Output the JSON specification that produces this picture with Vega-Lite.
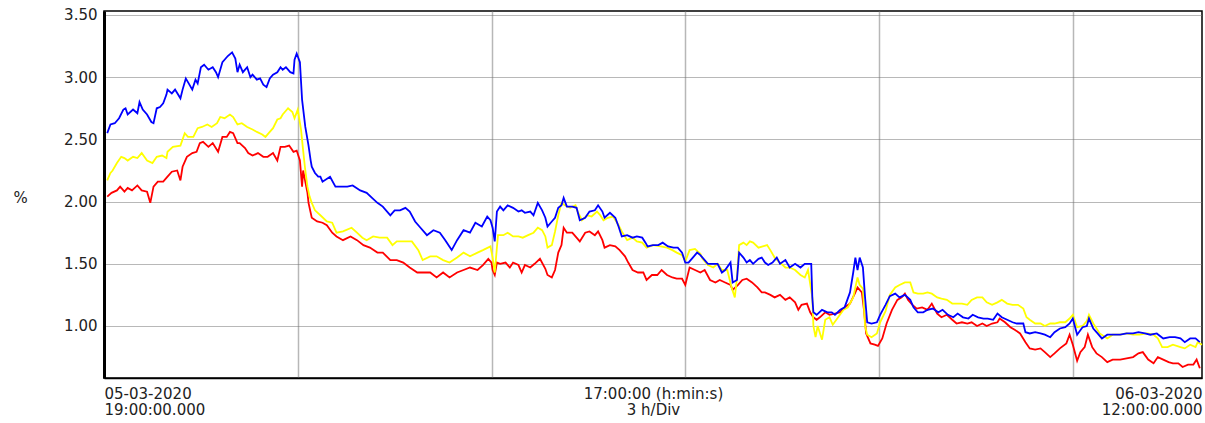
{
"$schema": "https://vega.github.io/schema/vega-lite/v6.json",
"width": 1098, "height": 367,
"autosize": {"type": "none"},
"padding": {"left": 104, "top": 11, "right": 3, "bottom": 45},
"background": "white",
"config": {"view": {"stroke": "#000", "strokeWidth": 1.5}, "font": "DejaVu Sans"},
"datasets": {
"red": [
{"m":3,"v":2.04},{"m":7,"v":2.07},{"m":12,"v":2.09},{"m":15,"v":2.12},{"m":19,"v":2.08},{"m":22,"v":2.11},{"m":26,"v":2.09},{"m":31,"v":2.13},{"m":35,"v":2.09},{"m":40,"v":2.08},{"m":43,"v":1.99},{"m":46,"v":2.12},{"m":50,"v":2.16},{"m":55,"v":2.16},{"m":59,"v":2.20},{"m":63,"v":2.24},{"m":68,"v":2.25},{"m":71,"v":2.17},{"m":73,"v":2.28},{"m":77,"v":2.36},{"m":82,"v":2.39},{"m":86,"v":2.40},{"m":89,"v":2.47},{"m":92,"v":2.48},{"m":97,"v":2.44},{"m":101,"v":2.47},{"m":106,"v":2.40},{"m":110,"v":2.52},{"m":114,"v":2.52},{"m":117,"v":2.56},{"m":120,"v":2.55},{"m":124,"v":2.47},{"m":126,"v":2.47},{"m":131,"v":2.43},{"m":134,"v":2.39},{"m":138,"v":2.37},{"m":143,"v":2.39},{"m":148,"v":2.36},{"m":152,"v":2.36},{"m":157,"v":2.39},{"m":161,"v":2.33},{"m":164,"v":2.44},{"m":168,"v":2.44},{"m":172,"v":2.45},{"m":176,"v":2.40},{"m":179,"v":2.41},{"m":182,"v":2.33},{"m":184,"v":2.12},{"m":185,"v":2.25},{"m":189,"v":2.07},{"m":190,"v":1.99},{"m":193,"v":1.87},{"m":198,"v":1.84},{"m":203,"v":1.83},{"m":207,"v":1.81},{"m":212,"v":1.75},{"m":216,"v":1.72},{"m":222,"v":1.69},{"m":229,"v":1.72},{"m":235,"v":1.69},{"m":241,"v":1.65},{"m":247,"v":1.63},{"m":254,"v":1.59},{"m":259,"v":1.59},{"m":266,"v":1.53},{"m":272,"v":1.53},{"m":278,"v":1.51},{"m":284,"v":1.47},{"m":291,"v":1.43},{"m":296,"v":1.43},{"m":303,"v":1.43},{"m":309,"v":1.39},{"m":315,"v":1.43},{"m":321,"v":1.39},{"m":328,"v":1.43},{"m":334,"v":1.45},{"m":340,"v":1.47},{"m":347,"v":1.45},{"m":352,"v":1.49},{"m":357,"v":1.54},{"m":360,"v":1.51},{"m":361,"v":1.45},{"m":363,"v":1.41},{"m":365,"v":1.51},{"m":368,"v":1.50},{"m":373,"v":1.51},{"m":377,"v":1.47},{"m":380,"v":1.51},{"m":385,"v":1.49},{"m":388,"v":1.43},{"m":391,"v":1.49},{"m":396,"v":1.47},{"m":400,"v":1.50},{"m":405,"v":1.54},{"m":410,"v":1.46},{"m":412,"v":1.41},{"m":416,"v":1.39},{"m":419,"v":1.45},{"m":422,"v":1.59},{"m":425,"v":1.65},{"m":427,"v":1.79},{"m":430,"v":1.75},{"m":435,"v":1.75},{"m":439,"v":1.71},{"m":442,"v":1.68},{"m":447,"v":1.75},{"m":451,"v":1.76},{"m":456,"v":1.73},{"m":459,"v":1.76},{"m":463,"v":1.69},{"m":465,"v":1.63},{"m":470,"v":1.65},{"m":475,"v":1.64},{"m":479,"v":1.61},{"m":484,"v":1.56},{"m":487,"v":1.51},{"m":491,"v":1.45},{"m":496,"v":1.43},{"m":501,"v":1.43},{"m":504,"v":1.37},{"m":509,"v":1.41},{"m":514,"v":1.41},{"m":518,"v":1.45},{"m":523,"v":1.41},{"m":528,"v":1.39},{"m":532,"v":1.38},{"m":537,"v":1.38},{"m":540,"v":1.33},{"m":544,"v":1.47},{"m":549,"v":1.45},{"m":554,"v":1.43},{"m":558,"v":1.45},{"m":563,"v":1.37},{"m":568,"v":1.35},{"m":572,"v":1.37},{"m":577,"v":1.35},{"m":582,"v":1.33},{"m":584,"v":1.29},{"m":589,"v":1.33},{"m":593,"v":1.37},{"m":597,"v":1.38},{"m":602,"v":1.35},{"m":607,"v":1.31},{"m":611,"v":1.27},{"m":614,"v":1.27},{"m":619,"v":1.25},{"m":623,"v":1.23},{"m":628,"v":1.25},{"m":633,"v":1.21},{"m":637,"v":1.23},{"m":642,"v":1.19},{"m":645,"v":1.13},{"m":648,"v":1.17},{"m":653,"v":1.18},{"m":656,"v":1.11},{"m":659,"v":1.07},{"m":662,"v":1.05},{"m":665,"v":1.07},{"m":670,"v":1.11},{"m":674,"v":1.09},{"m":679,"v":1.10},{"m":684,"v":1.11},{"m":688,"v":1.15},{"m":693,"v":1.18},{"m":698,"v":1.27},{"m":700,"v":1.31},{"m":704,"v":1.27},{"m":706,"v":1.13},{"m":708,"v":0.94},{"m":712,"v":0.86},{"m":716,"v":0.85},{"m":719,"v":0.84},{"m":723,"v":0.90},{"m":727,"v":1.02},{"m":732,"v":1.13},{"m":737,"v":1.21},{"m":741,"v":1.23},{"m":744,"v":1.26},{"m":747,"v":1.21},{"m":751,"v":1.17},{"m":755,"v":1.14},{"m":760,"v":1.15},{"m":765,"v":1.13},{"m":769,"v":1.18},{"m":774,"v":1.10},{"m":778,"v":1.07},{"m":783,"v":1.09},{"m":788,"v":1.05},{"m":792,"v":1.02},{"m":797,"v":1.03},{"m":802,"v":1.02},{"m":806,"v":1.03},{"m":811,"v":1.00},{"m":816,"v":1.02},{"m":820,"v":1.00},{"m":825,"v":1.02},{"m":830,"v":1.03},{"m":832,"v":1.06},{"m":837,"v":1.03},{"m":842,"v":0.99},{"m":846,"v":0.97},{"m":851,"v":0.94},{"m":856,"v":0.87},{"m":860,"v":0.82},{"m":865,"v":0.81},{"m":870,"v":0.82},{"m":874,"v":0.79},{"m":879,"v":0.75},{"m":883,"v":0.78},{"m":888,"v":0.82},{"m":894,"v":0.86},{"m":897,"v":0.93},{"m":900,"v":0.85},{"m":904,"v":0.72},{"m":907,"v":0.79},{"m":911,"v":0.83},{"m":914,"v":0.93},{"m":918,"v":0.83},{"m":922,"v":0.78},{"m":927,"v":0.75},{"m":932,"v":0.71},{"m":937,"v":0.73},{"m":944,"v":0.73},{"m":950,"v":0.74},{"m":956,"v":0.75},{"m":961,"v":0.78},{"m":965,"v":0.79},{"m":970,"v":0.73},{"m":975,"v":0.70},{"m":979,"v":0.75},{"m":984,"v":0.73},{"m":989,"v":0.71},{"m":993,"v":0.70},{"m":998,"v":0.70},{"m":1002,"v":0.67},{"m":1007,"v":0.69},{"m":1012,"v":0.69},{"m":1015,"v":0.73},{"m":1018,"v":0.66}
],
"yellow": [
{"m":3,"v":2.17},{"m":6,"v":2.23},{"m":8,"v":2.25},{"m":12,"v":2.31},{"m":16,"v":2.36},{"m":19,"v":2.35},{"m":22,"v":2.33},{"m":27,"v":2.36},{"m":31,"v":2.35},{"m":35,"v":2.39},{"m":40,"v":2.33},{"m":45,"v":2.31},{"m":49,"v":2.36},{"m":54,"v":2.37},{"m":58,"v":2.35},{"m":59,"v":2.40},{"m":64,"v":2.44},{"m":71,"v":2.45},{"m":75,"v":2.55},{"m":78,"v":2.52},{"m":83,"v":2.52},{"m":87,"v":2.59},{"m":91,"v":2.60},{"m":96,"v":2.62},{"m":100,"v":2.60},{"m":105,"v":2.63},{"m":108,"v":2.68},{"m":112,"v":2.67},{"m":117,"v":2.70},{"m":120,"v":2.68},{"m":124,"v":2.62},{"m":128,"v":2.63},{"m":133,"v":2.60},{"m":138,"v":2.58},{"m":142,"v":2.56},{"m":147,"v":2.54},{"m":150,"v":2.52},{"m":153,"v":2.55},{"m":157,"v":2.59},{"m":161,"v":2.66},{"m":164,"v":2.67},{"m":166,"v":2.70},{"m":171,"v":2.75},{"m":175,"v":2.72},{"m":177,"v":2.67},{"m":180,"v":2.74},{"m":183,"v":2.58},{"m":185,"v":2.41},{"m":187,"v":2.25},{"m":189,"v":2.12},{"m":191,"v":2.04},{"m":193,"v":1.99},{"m":196,"v":1.93},{"m":201,"v":1.89},{"m":207,"v":1.84},{"m":212,"v":1.83},{"m":216,"v":1.75},{"m":222,"v":1.76},{"m":230,"v":1.79},{"m":235,"v":1.75},{"m":240,"v":1.71},{"m":244,"v":1.69},{"m":250,"v":1.72},{"m":256,"v":1.71},{"m":263,"v":1.71},{"m":268,"v":1.65},{"m":272,"v":1.68},{"m":280,"v":1.68},{"m":286,"v":1.68},{"m":292,"v":1.61},{"m":296,"v":1.53},{"m":303,"v":1.56},{"m":309,"v":1.56},{"m":315,"v":1.53},{"m":321,"v":1.51},{"m":328,"v":1.55},{"m":334,"v":1.59},{"m":340,"v":1.56},{"m":347,"v":1.59},{"m":352,"v":1.61},{"m":359,"v":1.64},{"m":361,"v":1.55},{"m":363,"v":1.43},{"m":366,"v":1.73},{"m":371,"v":1.73},{"m":375,"v":1.75},{"m":380,"v":1.72},{"m":385,"v":1.72},{"m":389,"v":1.71},{"m":394,"v":1.73},{"m":399,"v":1.75},{"m":403,"v":1.79},{"m":407,"v":1.77},{"m":410,"v":1.72},{"m":412,"v":1.63},{"m":416,"v":1.65},{"m":419,"v":1.76},{"m":422,"v":1.89},{"m":425,"v":1.99},{"m":428,"v":1.97},{"m":433,"v":1.95},{"m":438,"v":1.97},{"m":440,"v":1.92},{"m":444,"v":1.85},{"m":449,"v":1.89},{"m":453,"v":1.88},{"m":458,"v":1.92},{"m":461,"v":1.89},{"m":464,"v":1.85},{"m":468,"v":1.87},{"m":473,"v":1.88},{"m":478,"v":1.81},{"m":481,"v":1.76},{"m":486,"v":1.69},{"m":491,"v":1.71},{"m":495,"v":1.68},{"m":500,"v":1.67},{"m":504,"v":1.63},{"m":510,"v":1.65},{"m":517,"v":1.64},{"m":523,"v":1.63},{"m":528,"v":1.61},{"m":532,"v":1.59},{"m":537,"v":1.57},{"m":540,"v":1.52},{"m":544,"v":1.61},{"m":549,"v":1.62},{"m":554,"v":1.58},{"m":556,"v":1.54},{"m":561,"v":1.49},{"m":566,"v":1.47},{"m":570,"v":1.50},{"m":574,"v":1.45},{"m":579,"v":1.45},{"m":583,"v":1.31},{"m":586,"v":1.23},{"m":588,"v":1.39},{"m":590,"v":1.65},{"m":594,"v":1.67},{"m":597,"v":1.65},{"m":600,"v":1.68},{"m":603,"v":1.67},{"m":608,"v":1.63},{"m":612,"v":1.64},{"m":616,"v":1.65},{"m":619,"v":1.61},{"m":623,"v":1.55},{"m":628,"v":1.51},{"m":633,"v":1.47},{"m":637,"v":1.47},{"m":642,"v":1.45},{"m":647,"v":1.41},{"m":651,"v":1.39},{"m":654,"v":1.45},{"m":658,"v":1.23},{"m":659,"v":1.00},{"m":661,"v":0.91},{"m":663,"v":1.00},{"m":667,"v":0.89},{"m":670,"v":1.05},{"m":674,"v":1.07},{"m":677,"v":1.01},{"m":682,"v":1.07},{"m":687,"v":1.13},{"m":691,"v":1.15},{"m":696,"v":1.23},{"m":700,"v":1.39},{"m":702,"v":1.33},{"m":705,"v":1.30},{"m":707,"v":1.00},{"m":709,"v":0.93},{"m":713,"v":0.91},{"m":718,"v":0.94},{"m":721,"v":1.03},{"m":726,"v":1.12},{"m":730,"v":1.25},{"m":735,"v":1.31},{"m":739,"v":1.33},{"m":744,"v":1.35},{"m":749,"v":1.35},{"m":752,"v":1.27},{"m":756,"v":1.26},{"m":761,"v":1.26},{"m":765,"v":1.27},{"m":769,"v":1.26},{"m":774,"v":1.23},{"m":778,"v":1.22},{"m":783,"v":1.21},{"m":788,"v":1.18},{"m":792,"v":1.18},{"m":797,"v":1.18},{"m":802,"v":1.17},{"m":806,"v":1.21},{"m":811,"v":1.23},{"m":816,"v":1.23},{"m":820,"v":1.19},{"m":825,"v":1.17},{"m":830,"v":1.19},{"m":834,"v":1.21},{"m":839,"v":1.18},{"m":844,"v":1.17},{"m":849,"v":1.17},{"m":854,"v":1.14},{"m":857,"v":1.07},{"m":860,"v":1.05},{"m":865,"v":1.02},{"m":870,"v":1.02},{"m":874,"v":1.00},{"m":879,"v":1.02},{"m":883,"v":1.02},{"m":888,"v":1.03},{"m":893,"v":1.03},{"m":897,"v":1.06},{"m":900,"v":1.09},{"m":904,"v":0.99},{"m":909,"v":1.00},{"m":913,"v":1.04},{"m":915,"v":1.09},{"m":919,"v":1.02},{"m":925,"v":0.94},{"m":932,"v":0.90},{"m":937,"v":0.93},{"m":944,"v":0.93},{"m":950,"v":0.94},{"m":956,"v":0.93},{"m":962,"v":0.93},{"m":969,"v":0.94},{"m":975,"v":0.93},{"m":979,"v":0.90},{"m":983,"v":0.83},{"m":988,"v":0.83},{"m":993,"v":0.85},{"m":1000,"v":0.83},{"m":1004,"v":0.82},{"m":1009,"v":0.85},{"m":1014,"v":0.83},{"m":1016,"v":0.87},{"m":1020,"v":0.85}
],
"blue": [
{"m":3,"v":2.55},{"m":6,"v":2.62},{"m":10,"v":2.63},{"m":14,"v":2.67},{"m":18,"v":2.74},{"m":20,"v":2.75},{"m":22,"v":2.70},{"m":27,"v":2.74},{"m":31,"v":2.71},{"m":33,"v":2.80},{"m":36,"v":2.74},{"m":40,"v":2.70},{"m":44,"v":2.64},{"m":46,"v":2.63},{"m":49,"v":2.75},{"m":52,"v":2.76},{"m":55,"v":2.79},{"m":58,"v":2.86},{"m":59,"v":2.90},{"m":63,"v":2.87},{"m":66,"v":2.90},{"m":71,"v":2.83},{"m":73,"v":2.90},{"m":76,"v":2.99},{"m":78,"v":2.96},{"m":82,"v":2.90},{"m":85,"v":2.98},{"m":87,"v":2.95},{"m":90,"v":3.08},{"m":93,"v":3.10},{"m":97,"v":3.06},{"m":101,"v":3.08},{"m":104,"v":3.04},{"m":106,"v":3.00},{"m":110,"v":3.12},{"m":112,"v":3.14},{"m":115,"v":3.17},{"m":119,"v":3.20},{"m":122,"v":3.15},{"m":124,"v":3.04},{"m":126,"v":3.10},{"m":129,"v":3.04},{"m":133,"v":3.08},{"m":136,"v":3.00},{"m":138,"v":3.02},{"m":142,"v":2.98},{"m":145,"v":2.99},{"m":148,"v":2.94},{"m":151,"v":2.92},{"m":154,"v":2.99},{"m":157,"v":3.02},{"m":161,"v":3.04},{"m":164,"v":3.08},{"m":166,"v":3.06},{"m":169,"v":3.08},{"m":173,"v":3.04},{"m":176,"v":3.03},{"m":177,"v":3.14},{"m":179,"v":3.19},{"m":182,"v":3.12},{"m":184,"v":2.82},{"m":187,"v":2.60},{"m":190,"v":2.45},{"m":192,"v":2.33},{"m":193,"v":2.28},{"m":196,"v":2.23},{"m":199,"v":2.20},{"m":201,"v":2.20},{"m":203,"v":2.16},{"m":210,"v":2.20},{"m":215,"v":2.12},{"m":219,"v":2.12},{"m":226,"v":2.12},{"m":231,"v":2.13},{"m":238,"v":2.09},{"m":244,"v":2.07},{"m":249,"v":2.03},{"m":254,"v":1.99},{"m":259,"v":1.96},{"m":266,"v":1.89},{"m":270,"v":1.93},{"m":275,"v":1.93},{"m":280,"v":1.95},{"m":284,"v":1.92},{"m":289,"v":1.84},{"m":294,"v":1.79},{"m":300,"v":1.73},{"m":306,"v":1.77},{"m":312,"v":1.75},{"m":317,"v":1.69},{"m":323,"v":1.61},{"m":328,"v":1.69},{"m":334,"v":1.77},{"m":340,"v":1.75},{"m":345,"v":1.83},{"m":351,"v":1.80},{"m":356,"v":1.88},{"m":359,"v":1.85},{"m":361,"v":1.79},{"m":363,"v":1.68},{"m":365,"v":1.92},{"m":368,"v":1.96},{"m":371,"v":1.93},{"m":375,"v":1.97},{"m":380,"v":1.95},{"m":385,"v":1.92},{"m":388,"v":1.93},{"m":391,"v":1.91},{"m":396,"v":1.92},{"m":399,"v":1.89},{"m":403,"v":1.99},{"m":407,"v":1.93},{"m":410,"v":1.87},{"m":412,"v":1.80},{"m":416,"v":1.84},{"m":419,"v":1.87},{"m":422,"v":1.95},{"m":425,"v":1.97},{"m":427,"v":2.03},{"m":430,"v":1.96},{"m":435,"v":1.96},{"m":439,"v":1.95},{"m":442,"v":1.85},{"m":447,"v":1.87},{"m":451,"v":1.92},{"m":456,"v":1.93},{"m":459,"v":1.97},{"m":463,"v":1.92},{"m":465,"v":1.87},{"m":470,"v":1.91},{"m":475,"v":1.87},{"m":478,"v":1.80},{"m":481,"v":1.72},{"m":486,"v":1.73},{"m":491,"v":1.71},{"m":495,"v":1.72},{"m":500,"v":1.71},{"m":503,"v":1.67},{"m":505,"v":1.64},{"m":510,"v":1.65},{"m":515,"v":1.65},{"m":519,"v":1.67},{"m":524,"v":1.64},{"m":529,"v":1.63},{"m":533,"v":1.63},{"m":537,"v":1.59},{"m":540,"v":1.51},{"m":543,"v":1.51},{"m":547,"v":1.55},{"m":551,"v":1.59},{"m":554,"v":1.57},{"m":556,"v":1.55},{"m":561,"v":1.50},{"m":566,"v":1.50},{"m":570,"v":1.50},{"m":574,"v":1.43},{"m":577,"v":1.45},{"m":582,"v":1.51},{"m":584,"v":1.35},{"m":588,"v":1.37},{"m":590,"v":1.59},{"m":594,"v":1.55},{"m":597,"v":1.51},{"m":600,"v":1.53},{"m":603,"v":1.50},{"m":608,"v":1.54},{"m":611,"v":1.55},{"m":614,"v":1.51},{"m":617,"v":1.49},{"m":621,"v":1.51},{"m":625,"v":1.55},{"m":628,"v":1.50},{"m":633,"v":1.53},{"m":637,"v":1.47},{"m":642,"v":1.50},{"m":647,"v":1.47},{"m":651,"v":1.50},{"m":657,"v":1.50},{"m":658,"v":1.23},{"m":659,"v":1.11},{"m":662,"v":1.09},{"m":667,"v":1.13},{"m":672,"v":1.11},{"m":676,"v":1.11},{"m":679,"v":1.09},{"m":684,"v":1.13},{"m":688,"v":1.15},{"m":693,"v":1.27},{"m":696,"v":1.43},{"m":698,"v":1.55},{"m":700,"v":1.45},{"m":702,"v":1.55},{"m":705,"v":1.47},{"m":707,"v":1.23},{"m":709,"v":1.03},{"m":713,"v":1.02},{"m":718,"v":1.03},{"m":721,"v":1.09},{"m":726,"v":1.17},{"m":730,"v":1.24},{"m":735,"v":1.26},{"m":739,"v":1.23},{"m":744,"v":1.25},{"m":749,"v":1.21},{"m":752,"v":1.15},{"m":756,"v":1.11},{"m":761,"v":1.11},{"m":765,"v":1.13},{"m":770,"v":1.14},{"m":775,"v":1.11},{"m":779,"v":1.13},{"m":784,"v":1.09},{"m":789,"v":1.07},{"m":793,"v":1.10},{"m":798,"v":1.07},{"m":803,"v":1.06},{"m":807,"v":1.09},{"m":812,"v":1.07},{"m":817,"v":1.06},{"m":821,"v":1.06},{"m":826,"v":1.05},{"m":830,"v":1.10},{"m":834,"v":1.07},{"m":839,"v":1.05},{"m":844,"v":1.03},{"m":848,"v":1.02},{"m":854,"v":1.02},{"m":856,"v":0.95},{"m":860,"v":0.94},{"m":865,"v":0.95},{"m":870,"v":0.94},{"m":874,"v":0.93},{"m":879,"v":0.91},{"m":883,"v":0.95},{"m":888,"v":0.98},{"m":893,"v":0.99},{"m":897,"v":1.02},{"m":900,"v":1.06},{"m":904,"v":0.93},{"m":909,"v":0.99},{"m":913,"v":1.00},{"m":915,"v":1.06},{"m":919,"v":0.98},{"m":923,"v":0.94},{"m":927,"v":0.90},{"m":932,"v":0.93},{"m":937,"v":0.93},{"m":944,"v":0.93},{"m":950,"v":0.94},{"m":956,"v":0.94},{"m":961,"v":0.95},{"m":967,"v":0.94},{"m":972,"v":0.93},{"m":978,"v":0.94},{"m":984,"v":0.90},{"m":990,"v":0.91},{"m":995,"v":0.91},{"m":1000,"v":0.90},{"m":1004,"v":0.87},{"m":1009,"v":0.90},{"m":1014,"v":0.90},{"m":1018,"v":0.87}
]
},
"encoding": {
"x": {"field": "m", "type": "quantitative",
 "scale": {"domain": [0, 1020], "nice": false, "zero": false},
 "axis": {"title": null, "values": [0, 180, 360, 510, 540, 720, 900, 1020],
  "labelExpr": "datum.value == 0 ? ['05-03-2020', '19:00:00.000'] : datum.value == 510 ? ['17:00:00 (h:min:s)', '3 h/Div'] : datum.value == 1020 ? ['06-03-2020', '12:00:00.000'] : ''",
  "labelFlush": true, "labelOverlap": false, "ticks": false,
  "domainColor": "#000", "domainWidth": 1.5,
  "gridColor": "#707070", "gridDash": [1, 1], "gridWidth": 1.5,
  "gridOpacity": {"condition": {"test": "datum.value == 0 || datum.value == 510 || datum.value == 1020", "value": 0}, "value": 1},
  "labelFont": "DejaVu Sans", "labelFontSize": 15, "labelColor": "#222", "labelLineHeight": 16, "labelPadding": 8}},
"y": {"field": "v", "type": "quantitative",
 "scale": {"domain": [0.582, 3.532], "nice": false, "zero": false},
 "axis": {"title": "%", "titleAngle": 0, "titleX": -91, "titleY": 186, "titleAlign": "left", "titleBaseline": "middle",
  "titleFont": "DejaVu Sans", "titleFontSize": 15, "titleFontWeight": "normal", "titleColor": "#222",
  "values": [1, 1.5, 2, 2.5, 3, 3.5], "format": ".2f", "ticks": false, "labelPadding": 7,
  "domainColor": "#000", "domainWidth": 3,
  "gridColor": "#707070", "gridDash": [1, 1], "gridWidth": 1,
  "labelFont": "DejaVu Sans", "labelFontSize": 15, "labelColor": "#222"}}
},
"layer": [
{"data": {"name": "red"}, "mark": {"type": "line", "color": "#ff0000", "strokeWidth": 1.8}},
{"data": {"name": "yellow"}, "mark": {"type": "line", "color": "#ffff00", "strokeWidth": 1.8}},
{"data": {"name": "blue"}, "mark": {"type": "line", "color": "#0000ff", "strokeWidth": 1.8}}
]
}
